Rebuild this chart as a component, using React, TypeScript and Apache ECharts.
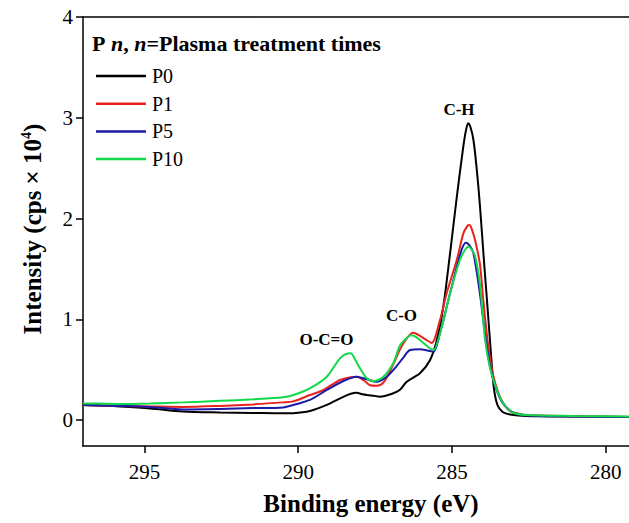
import React, { useEffect, useRef } from "react";
import * as echarts from "echarts";

const ENERGY_TICKS = [280, 285, 290, 295];
const INTENSITY_TICKS = [0, 1, 2, 3, 4];
const SERIES_NAMES = ["P0", "P1", "P5", "P10"];
const SERIES_COLORS = ["#000000", "#e8231f", "#1b1ba6", "#12d94a"];

const P0: [number, number][] = [
  [297.0, 0.15], [296.45, 0.145], [295.8, 0.135], [294.82, 0.115], [293.75, 0.085],
  [292.54, 0.075], [291.47, 0.07], [290.49, 0.066], [290.16, 0.068], [289.62, 0.09],
  [289.07, 0.15], [288.53, 0.23], [288.29, 0.26], [288.1, 0.27], [287.9, 0.255],
  [287.77, 0.248], [287.55, 0.24], [287.34, 0.232], [286.91, 0.265], [286.69, 0.3],
  [286.47, 0.38], [286.04, 0.464], [285.71, 0.596], [285.49, 0.794], [285.28, 1.125],
  [285.06, 1.655], [284.84, 2.216], [284.63, 2.713], [284.54, 2.88], [284.47, 2.945],
  [284.4, 2.91], [284.3, 2.779], [284.19, 2.481], [284.09, 2.134], [283.96, 1.588],
  [283.86, 1.191], [283.74, 0.7], [283.64, 0.33], [283.52, 0.15], [283.35, 0.08],
  [283.11, 0.055], [282.57, 0.04], [281.06, 0.035], [279.24, 0.03],
];

const P1: [number, number][] = [
  [297.0, 0.15], [296.45, 0.145], [295.8, 0.14], [294.82, 0.135], [293.75, 0.13],
  [292.54, 0.14], [291.47, 0.155], [290.49, 0.175], [290.16, 0.185], [289.62, 0.248],
  [289.18, 0.298], [288.64, 0.397], [288.29, 0.425], [288.1, 0.43], [287.88, 0.397],
  [287.66, 0.345], [287.45, 0.34], [287.23, 0.37], [286.91, 0.55], [286.69, 0.7],
  [286.47, 0.81], [286.26, 0.867], [286.04, 0.835], [285.86, 0.8], [285.66, 0.765],
  [285.39, 0.99], [285.17, 1.26], [284.84, 1.59], [284.63, 1.85], [284.5, 1.925],
  [284.43, 1.935], [284.36, 1.9], [284.25, 1.79], [284.09, 1.55], [283.98, 1.19],
  [283.82, 0.74], [283.66, 0.447], [283.5, 0.278], [283.33, 0.166], [283.11, 0.089],
  [282.78, 0.06], [282.57, 0.05], [281.06, 0.038], [279.24, 0.03],
];

const P5: [number, number][] = [
  [297.0, 0.15], [296.45, 0.145], [295.8, 0.14], [294.82, 0.13], [293.75, 0.105],
  [292.54, 0.11], [291.47, 0.118], [290.49, 0.125], [290.16, 0.149], [289.62, 0.199],
  [289.07, 0.298], [288.53, 0.387], [288.1, 0.43], [287.77, 0.404], [287.45, 0.38],
  [287.12, 0.43], [286.8, 0.535], [286.58, 0.62], [286.36, 0.695], [286.04, 0.702],
  [285.8, 0.69], [285.6, 0.678], [285.39, 0.861], [285.17, 1.125], [284.84, 1.522],
  [284.66, 1.71], [284.54, 1.76], [284.42, 1.73], [284.3, 1.655], [284.09, 1.258],
  [283.92, 0.844], [283.76, 0.536], [283.57, 0.318], [283.37, 0.18], [283.04, 0.08],
  [282.57, 0.045], [281.06, 0.035], [279.24, 0.03],
];

const P10: [number, number][] = [
  [297.0, 0.165], [296.45, 0.165], [295.8, 0.16], [294.82, 0.165], [293.75, 0.175],
  [292.54, 0.19], [291.47, 0.205], [290.49, 0.225], [290.16, 0.248], [289.62, 0.315],
  [289.07, 0.43], [288.64, 0.612], [288.4, 0.66], [288.29, 0.662], [288.15, 0.6],
  [287.99, 0.513], [287.77, 0.414], [287.56, 0.387], [287.23, 0.43], [286.91, 0.563],
  [286.69, 0.74], [286.47, 0.815], [286.32, 0.84], [286.15, 0.82], [285.93, 0.764],
  [285.71, 0.71], [285.6, 0.695], [285.33, 0.926], [285.06, 1.258], [284.74, 1.588],
  [284.55, 1.7], [284.47, 1.72], [284.38, 1.7], [284.25, 1.63], [284.09, 1.35],
  [283.92, 0.795], [283.76, 0.513], [283.54, 0.298], [283.33, 0.166], [283.01, 0.072],
  [282.57, 0.05], [281.06, 0.04], [279.24, 0.035],
];

const PEAK_LABELS: { name: string; coord: [number, number] }[] = [
  { name: "C-H", coord: [284.77, 3.08] },
  { name: "C-O", coord: [286.64, 1.04] },
  { name: "O-C=O", coord: [289.08, 0.8] },
];

const X_MIN = 279.24;
const X_MAX = 297;
const Y_MIN = -0.258;
const Y_MAX = 4;

export default function App() {
  const ref = useRef<HTMLDivElement>(null);
  useEffect(() => {
    const chart = echarts.init(ref.current!, null, { renderer: "svg" });
    const font = "'Liberation Serif', 'Times New Roman', serif";
    const axisLineStyle = { color: "#000", width: 1.5 };
    const dataSets = [P0, P1, P5, P10];
    const option: any = {
      animation: false,
      backgroundColor: "#fff",
      grid: { left: 83, right: 0, top: 17, bottom: 77, containLabel: false, outerBoundsMode: "none" },
      xAxis: [
        {
          type: "value",
          inverse: true,
          min: X_MIN,
          max: X_MAX,
          axisLine: { show: true, onZero: false, lineStyle: axisLineStyle },
          axisTick: { show: true, inside: false, length: 7, customValues: ENERGY_TICKS, lineStyle: axisLineStyle },
          axisLabel: { customValues: ENERGY_TICKS, margin: 15, fontSize: 21, fontFamily: font, color: "#000" },
          splitLine: { show: false },
        },
        {
          type: "value",
          position: "top",
          inverse: true,
          min: X_MIN,
          max: X_MAX,
          axisLine: { show: true, onZero: false, lineStyle: axisLineStyle },
          axisTick: { show: false },
          axisLabel: { show: false },
          splitLine: { show: false },
        },
      ],
      yAxis: {
        type: "value",
        min: Y_MIN,
        max: Y_MAX,
        axisLine: { show: true, onZero: false, lineStyle: axisLineStyle },
        axisTick: { show: true, inside: false, length: 7, customValues: INTENSITY_TICKS, lineStyle: axisLineStyle },
        axisLabel: { customValues: INTENSITY_TICKS, margin: 10, fontSize: 21, fontFamily: font, color: "#000" },
        splitLine: { show: false },
      },
      legend: {
        data: SERIES_NAMES,
        orient: "vertical",
        left: 91,
        top: 61,
        icon: "rect",
        itemWidth: 50,
        itemHeight: 2.5,
        itemGap: 7.7,
        textStyle: { fontFamily: font, fontSize: 20, color: "#000", lineHeight: 20, padding: [0, 0, 0, 1] },
      },
      graphic: [
        {
          type: "text",
          x: 92,
          y: 43,
          style: {
            text: "{b|P }{i|n}{b|, }{i|n}{b|=Plasma treatment times}",
            verticalAlign: "middle",
            align: "left",
            fill: "#000",
            rich: {
              b: { fontFamily: font, fontWeight: "bold", fontSize: 22, fill: "#000" },
              i: { fontFamily: font, fontWeight: "bold", fontStyle: "italic", fontSize: 22, fill: "#000" },
            },
          },
        },
        {
          type: "text",
          x: 32,
          y: 229,
          rotation: Math.PI / 2,
          style: {
            text: "{m|Intensity (cps × 10}{s|4}{m|)}",
            align: "center",
            verticalAlign: "middle",
            fill: "#000",
            rich: {
              m: { fontFamily: font, fontWeight: "bold", fontSize: 25, fill: "#000", height: 30 },
              s: { fontFamily: font, fontWeight: "bold", fontSize: 14, fill: "#000", verticalAlign: "top", height: 30, padding: [0, 0, 12, 0] },
            },
          },
        },
        {
          type: "text",
          x: 371,
          y: 503,
          style: {
            text: "Binding energy (eV)",
            align: "center",
            verticalAlign: "middle",
            fill: "#000",
            font: "bold 25px 'Liberation Serif', 'Times New Roman', serif",
          },
        },
      ],
      series: SERIES_NAMES.map((name, i) => ({
        name,
        type: "line",
        data: dataSets[i],
        symbol: "none",
        smooth: 0.3,
        lineStyle: { color: SERIES_COLORS[i], width: 2 },
        itemStyle: { color: SERIES_COLORS[i] },
        silent: true,
        markPoint:
          i === 0
            ? {
                symbol: "circle",
                symbolSize: 0,
                silent: true,
                data: PEAK_LABELS.map((p) => ({ name: p.name, coord: p.coord })),
                label: {
                  show: true,
                  position: "inside",
                  formatter: "{b}",
                  fontFamily: font,
                  fontWeight: "bold",
                  fontSize: 17,
                  color: "#000",
                },
              }
            : undefined,
      })),
    };
    chart.setOption(option);
    return () => chart.dispose();
  }, []);
  return (
    <div
      ref={ref}
      style={{ position: "fixed", left: 0, top: 0, width: 629, height: 523, background: "#fff" }}
    />
  );
}
